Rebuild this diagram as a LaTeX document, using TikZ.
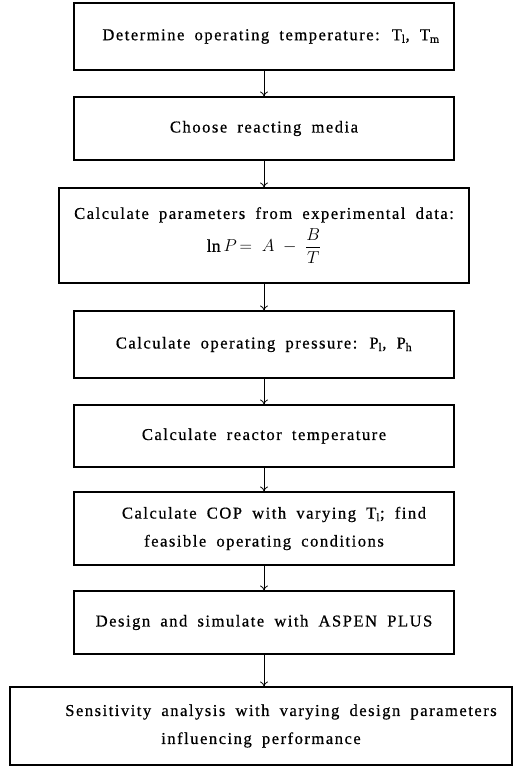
\documentclass[tikz,border=0pt]{standalone}
\usepackage{amsmath}
\usepackage{fontspec}
\setmainfont[LetterSpace=9,WordSpace=1.8,FakeBold=0.6]{Liberation Serif}
\usetikzlibrary{arrows.meta}

\tikzset{
 box/.style={draw, line width=1.1pt, inner sep=0pt, align=center,
  font=\fontsize{16.6}{28}\selectfont},
 arr/.style={line width=0.8pt, -{To[length=5pt,width=8pt]}},
}

\begin{document}
\begin{tikzpicture}[x=1pt,y=-1pt]
 \useasboundingbox (0,0) rectangle (520,768);

 \node[box, minimum width=380, minimum height=67] (b1) at (264,36.5)
  {\hspace*{14pt}Determine operating temperature: T\textsubscript{l}, T\textsubscript{m}}; % 一番上
 \node[box, minimum width=380, minimum height=63] (b2) at (264,128.5)
  {Choose reacting media};
 \node[box, minimum width=410, minimum height=95] (b3) at (264,235.5)
  {Calculate parameters from experimental data:\\[5pt]
   {\fontsize{18}{22}\selectfont$\ln P\mkern-2mu=\;A\;-\;\dfrac{B}{T}$}}; % 式の入った箱
 \node[box, minimum width=380, minimum height=67] (b4) at (264,344.5)
  {Calculate operating pressure: P\textsubscript{l}, P\textsubscript{h}};
 \node[box, minimum width=380, minimum height=62] (b5) at (264,436)
  {Calculate reactor temperature};
 \node[box, minimum width=380, minimum height=73] (b6) at (264,528.5)
  {\hspace*{20pt}Calculate COP with varying T\textsubscript{l}; find\\
   feasible operating conditions};
 \node[box, minimum width=380, minimum height=63] (b7) at (264,622.5)
  {Design and simulate with ASPEN PLUS};
 \node[box, minimum width=502, minimum height=78] (b8) at (261,726)
  {\hspace*{40pt}Sensitivity analysis with varying design parameters\\
   influencing performance}; % 一番下,幅が広い

 \draw [arr] (b1.south) -- (b2.north);
 \draw [arr] (b2.south) -- (b3.north);
 \draw [arr] (b3.south) -- (b4.north);
 \draw [arr] (b4.south) -- (b5.north);
 \draw [arr] (b5.south) -- (b6.north);
 \draw [arr] (b6.south) -- (b7.north);
 \draw [arr] (b7.south) -- (b7.south |- b8.north);
\end{tikzpicture}
\end{document}
